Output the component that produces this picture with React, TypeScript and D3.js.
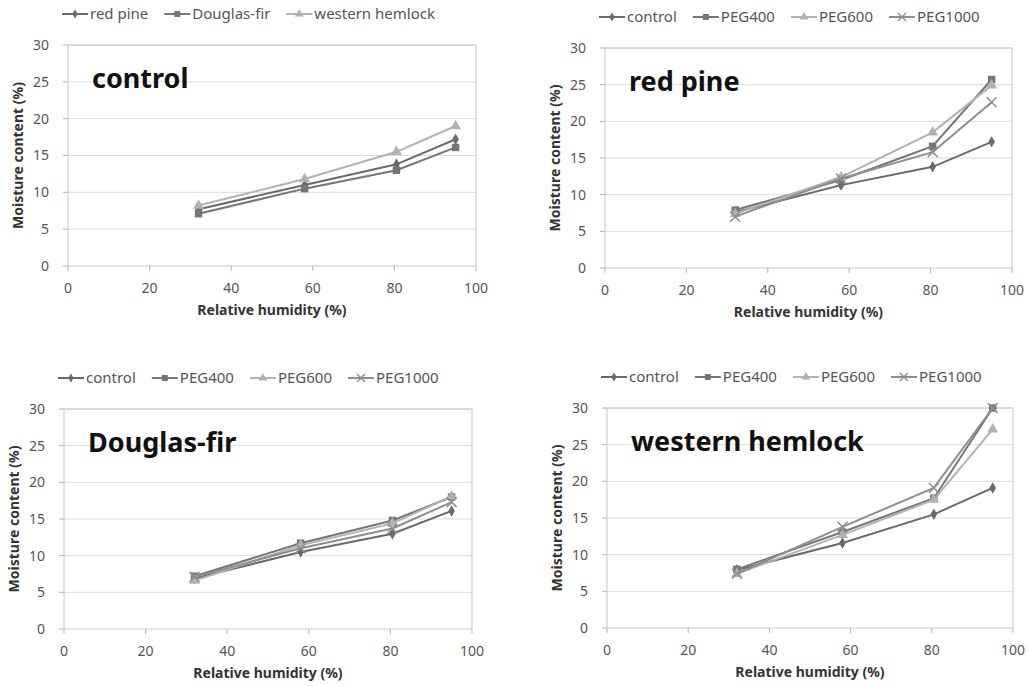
import React, { useRef, useEffect } from 'react';
import { select, scaleLinear, line, symbol, symbolDiamond, symbolSquare, symbolTriangle, range } from 'd3';

// relative humidity (%) of the four conditioning points
const humidity = [32, 58, 80.5, 95];

const speciesNames = ['red pine', 'Douglas-fir', 'western hemlock'];
const treatNames = ['control', 'PEG400', 'PEG600', 'PEG1000'];

const panelTitles = ['control', 'red pine', 'Douglas-fir', 'western hemlock'];

// moisture content (%)
const controlPanel = [
  [7.7, 11.0, 13.8, 17.2],
  [7.1, 10.5, 13.0, 16.1],
  [8.2, 11.8, 15.5, 19.0],
];
const redPinePanel = [
  [7.6, 11.3, 13.8, 17.2],
  [7.9, 12.0, 16.6, 25.7],
  [7.4, 12.4, 18.5, 24.9],
  [7.0, 12.2, 15.8, 22.6],
];
const douglasPanel = [
  [6.9, 10.5, 13.0, 16.1],
  [7.2, 11.7, 14.8, 18.0],
  [6.6, 11.4, 14.4, 18.1],
  [7.1, 11.0, 13.7, 17.3],
];
const hemlockPanel = [
  [7.9, 11.6, 15.5, 19.1],
  [8.0, 13.1, 17.7, 30.0],
  [7.4, 12.7, 17.5, 27.1],
  [7.4, 13.8, 19.1, 30.0],
];

const xTicks = [0, 20, 40, 60, 80, 100];
const yTicks = [0, 5, 10, 15, 20, 25, 30];

// marker / colour per series slot
const seriesColors = ['#6a6a6a', '#767676', '#b2b2b2', '#8e8e8e'];
const markerKinds = ['diamond', 'square', 'triangle', 'x'];

const panels = [
  { title: panelTitles[0], names: speciesNames, data: controlPanel, left: 68, top: 45, right: 476, bottom: 266 },
  { title: panelTitles[1], names: treatNames, data: redPinePanel, left: 605, top: 48, right: 1012, bottom: 268 },
  { title: panelTitles[2], names: treatNames, data: douglasPanel, left: 64, top: 409, right: 472, bottom: 629 },
  { title: panelTitles[3], names: treatNames, data: hemlockPanel, left: 607, top: 408, right: 1013, bottom: 628 },
];

const font = '"Noto Sans", "Open Sans", sans-serif';

function drawMarker(g, kind, x, y, color, scale = 1) {
  if (kind === 'x') {
    const s = 5 * scale;
    g.append('path')
      .attr('d', `M${x - s},${y - s}L${x + s},${y + s}M${x - s},${y + s}L${x + s},${y - s}`)
      .attr('stroke', color).attr('stroke-width', 1.5).attr('fill', 'none');
    return;
  }
  const type = kind === 'diamond' ? symbolDiamond : kind === 'square' ? symbolSquare : symbolTriangle;
  const size = (kind === 'diamond' ? 38 : kind === 'square' ? 56 : 52) * scale * scale;
  g.append('path')
    .attr('d', symbol().type(type).size(size)())
    .attr('transform', `translate(${x},${y})`)
    .attr('fill', color);
}

function App() {
  const svgRef = useRef();

  useEffect(() => {
    const svg = select(svgRef.current);
    svg.selectAll('*').remove();

    panels.forEach(p => {
      const g = svg.append('g');
      const xScale = scaleLinear().domain([0, 100]).range([p.left, p.right]);
      const yScale = scaleLinear().domain([0, 30]).range([p.bottom, p.top]);

      // grid lines
      g.selectAll('.grid')
        .data(yTicks.slice(1))
        .join('line')
        .attr('x1', p.left).attr('x2', p.right)
        .attr('y1', d => yScale(d)).attr('y2', d => yScale(d))
        .attr('stroke', '#dcdcdc').attr('stroke-width', 1);

      // plot frame
      g.append('rect')
        .attr('x', p.left).attr('y', p.top)
        .attr('width', p.right - p.left).attr('height', p.bottom - p.top)
        .attr('fill', 'none').attr('stroke', '#c8c8c8').attr('stroke-width', 1);

      // ticks
      g.selectAll('.yt').data(yTicks).join('line')
        .attr('x1', p.left - 5).attr('x2', p.left)
        .attr('y1', d => yScale(d)).attr('y2', d => yScale(d))
        .attr('stroke', '#b4b4b4');
      g.selectAll('.xt').data(xTicks).join('line')
        .attr('x1', d => xScale(d)).attr('x2', d => xScale(d))
        .attr('y1', p.bottom).attr('y2', p.bottom + 5)
        .attr('stroke', '#b4b4b4');

      g.selectAll('.yl').data(yTicks).join('text')
        .attr('x', p.left - 19).attr('y', d => yScale(d)).attr('dy', '0.35em')
        .attr('text-anchor', 'end').attr('font-size', 14).attr('fill', '#555')
        .attr('font-family', font).text(d => d);
      g.selectAll('.xl').data(xTicks).join('text')
        .attr('x', d => xScale(d)).attr('y', p.bottom + 22).attr('dy', '0.35em')
        .attr('text-anchor', 'middle').attr('font-size', 14).attr('fill', '#555')
        .attr('font-family', font).text(d => d);

      // axis titles
      g.append('text')
        .attr('x', (p.left + p.right) / 2).attr('y', p.bottom + 49)
        .attr('text-anchor', 'middle').attr('font-size', 14).attr('font-weight', 'bold')
        .attr('fill', '#333').attr('font-family', font).text('Relative humidity (%)');
      g.append('text')
        .attr('transform', `translate(${p.left - 45},${(p.top + p.bottom) / 2}) rotate(-90)`)
        .attr('text-anchor', 'middle').attr('font-size', 14).attr('font-weight', 'bold')
        .attr('fill', '#333').attr('font-family', font).text('Moisture content (%)');

      // panel title
      g.append('text')
        .attr('x', p.left + 24).attr('y', p.top + 43)
        .attr('font-size', 27).attr('font-weight', 'bold').attr('fill', '#111')
        .attr('font-family', font).text(p.title);

      // series
      const lineGen = line().x((d, i) => xScale(humidity[i])).y(d => yScale(d));
      p.data.forEach((vals, si) => {
        const color = seriesColors[si];
        g.append('path')
          .attr('d', lineGen(vals))
          .attr('fill', 'none').attr('stroke', color).attr('stroke-width', 2);
        range(vals.length).forEach(i => {
          drawMarker(g, markerKinds[si], xScale(humidity[i]), yScale(vals[i]), color);
        });
      });

      // legend
      let lx = p.left - 6;
      const ly = p.top - 31;
      p.names.forEach((name, si) => {
        const color = seriesColors[si];
        g.append('line')
          .attr('x1', lx).attr('x2', lx + 26).attr('y1', ly).attr('y2', ly)
          .attr('stroke', color).attr('stroke-width', 2);
        drawMarker(g, markerKinds[si], lx + 13, ly, color, 0.8);
        const t = g.append('text')
          .attr('x', lx + 28).attr('y', ly).attr('dy', '0.35em')
          .attr('font-size', 15).attr('fill', '#555').attr('font-family', font).text(name);
        const w = t.node().getComputedTextLength();
        lx += 28 + w + 16;
      });
    });
  }, []);

  return (
    <svg ref={svgRef} width={1029} height={686} style={{ display: 'block', position: 'absolute', left: 0, top: 0, background: '#fff' }} />
  );
}

export default App;
